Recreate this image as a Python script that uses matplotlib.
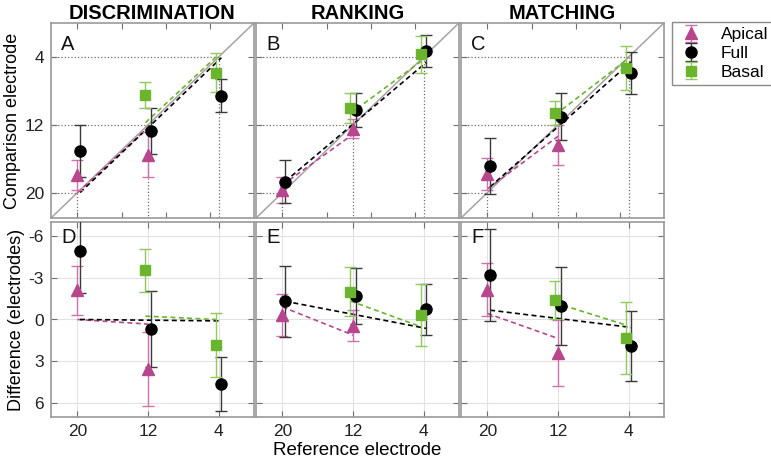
import numpy as np
import matplotlib.pyplot as plt

plt.rcParams['font.family'] = ['Liberation Sans', 'DejaVu Sans']
plt.rcParams['axes.unicode_minus'] = False

tasks = ['DISCRIMINATION', 'RANKING', 'MATCHING']
top_letters = ['A', 'B', 'C']
bottom_letters = ['D', 'E', 'F']
ref_ticks = [20, 12, 4]
diff_ticks = [-6, -3, 0, 3, 6]
comp_ticks = [4, 12, 20]

apical_ref = [20, 12]
full_ref = [20, 12, 4]
basal_ref = [12, 4]

# difference (comparison - reference) for each task
apical_diff = [[-2.1, 3.55], [-0.3, 0.45], [-2.15, 2.4]]
apical_err = [[1.76, 2.65], [1.52, 1.1], [1.9, 2.38]]
full_diff = [[-4.95, 0.71, 4.6], [-1.3, -1.7, -0.72], [-3.18, -0.95, 1.9]]
full_err = [[3.06, 2.73, 1.94], [2.56, 2.0, 1.86], [3.3, 2.8, 2.5]]
basal_diff = [[-3.52, 1.86], [-1.98, -0.31], [-1.38, 1.35]]
basal_err = [[1.52, 2.3], [1.76, 2.21], [1.38, 2.58]]

# dashed lines, value at first and last electrode of each group
apical_fit = [[0.0, 0.33], [-0.9, 1.12], [-0.43, 1.36]]
full_fit = [[0.0, 0.1], [-1.31, 0.64], [-0.67, 0.57]]
basal_fit = [[-0.24, 0.0], [-1.33, 0.52], [-1.19, 0.4]]

groups = [
    # label, refs, diff, err, fit, color, errcolor, marker, size, x shift
    ('Apical', apical_ref, apical_diff, apical_err, apical_fit, '#B8468F', '#CF72AC', '^', 9, 0.0),
    ('Full', full_ref, full_diff, full_err, full_fit, 'black', '#3a3a3a', 'o', 8, -0.3),
    ('Basal', basal_ref, basal_diff, basal_err, basal_fit, '#6BB52E', '#8FCB5C', 's', 6.5, 0.3),
]

W, H = 771, 469
frame_col = '#9a9a9a'


def box(l, t, r, b):
    return [l / W, 1 - b / H, (r - l) / W, (b - t) / H]


def style(ax):
    for s in ax.spines.values():
        s.set_color(frame_col)
        s.set_linewidth(1.2)
    ax.tick_params(direction='in', length=4, width=0.8, color='#707070',
                   top=True, right=True, labelsize=12.5, labelcolor='#222222', pad=5)


fig = plt.figure(figsize=(W / 100, H / 100), dpi=100)
cols = [(51, 254), (256, 459), (461, 664)]
handles = []

for i, task in enumerate(tasks):
    l, r = cols[i]
    ax = fig.add_axes(box(l, 23, r, 218))
    bx = fig.add_axes(box(l, 222, r, 417))

    # top panel: comparison vs reference
    ax.plot([23, 0], [23, 0], color='#a8a2a2', lw=1.1, zorder=1)
    for e in ref_ticks:
        ax.plot([e, e], [e, 23], ls=':', color='#7a6868', lw=0.9, zorder=1)
        ax.plot([23, e], [e, e], ls=':', color='#7a6868', lw=0.9, zorder=1)

    # bottom panel grid
    for e in ref_ticks:
        bx.axvline(e, color='#e2e2e2', lw=0.8, zorder=0)
    for d in diff_ticks:
        bx.axhline(d, color='#e2e2e2', lw=0.8, zorder=0)

    for label, refs, diff, err, fit, c, ec, mk, ms, dx in groups:
        refs = np.array(refs, dtype=float)
        d = np.array(diff[i])
        e = np.array(err[i])
        f = np.array(fit[i])
        xs = refs + dx
        ends = refs[[0, -1]]
        xe = ends + dx
        ax.plot(xe, ends + f, ls='--', color=c, lw=1.2, dashes=(3, 2), zorder=2)
        bx.plot(xe, f, ls='--', color=c, lw=1.2, dashes=(3, 2), zorder=2)
        h = ax.errorbar(xs, refs + d, yerr=e, fmt=mk, ms=ms, mfc=c, mec=c,
                        ecolor=ec, elinewidth=1.0, capsize=4, capthick=1.0, zorder=3)
        bx.errorbar(xs, d, yerr=e, fmt=mk, ms=ms, mfc=c, mec=c,
                    ecolor=ec, elinewidth=1.0, capsize=4, capthick=1.0, zorder=3)
        if i == 0:
            handles.append(h)

    ax.set_xlim(23, 0)
    ax.set_ylim(23, 0)
    ax.set_xticks([20, 15, 10, 5])
    ax.set_xticklabels([])
    ax.set_yticks(comp_ticks)
    bx.set_xlim(23, 0)
    bx.set_ylim(7, -7)
    bx.set_xticks(ref_ticks)
    bx.set_yticks(diff_ticks)
    style(ax)
    style(bx)
    if i > 0:
        ax.set_yticklabels([])
        bx.set_yticklabels([])

    ax.text(0.05, 0.94, top_letters[i], transform=ax.transAxes, fontsize=14.5,
            va='top', ha='left', color='#111111')
    bx.text(0.05, 0.97, bottom_letters[i], transform=bx.transAxes, fontsize=14.5,
            va='top', ha='left', color='#111111')
    ax.set_title(task, fontsize=14.5, fontweight='bold', pad=3)

    if i == 0:
        ax.set_ylabel('Comparison electrode', fontsize=13, labelpad=3)
        bx.set_ylabel('Difference (electrodes)', fontsize=13, labelpad=3)
    if i == 1:
        bx.set_xlabel('Reference electrode', fontsize=13.5, labelpad=2)

leg = fig.legend(handles, ['Apical', 'Full', 'Basal'], loc='upper left',
                 bbox_to_anchor=(672 / W, 1 - 22 / H), fontsize=12.5,
                 fancybox=False, edgecolor='#8a8a8a', framealpha=1,
                 handlelength=1.6, handletextpad=0.9, borderpad=0.3,
                 labelspacing=0.2, borderaxespad=0)
leg.get_frame().set_linewidth(1.0)

fig.savefig('out.png', dpi=100)
